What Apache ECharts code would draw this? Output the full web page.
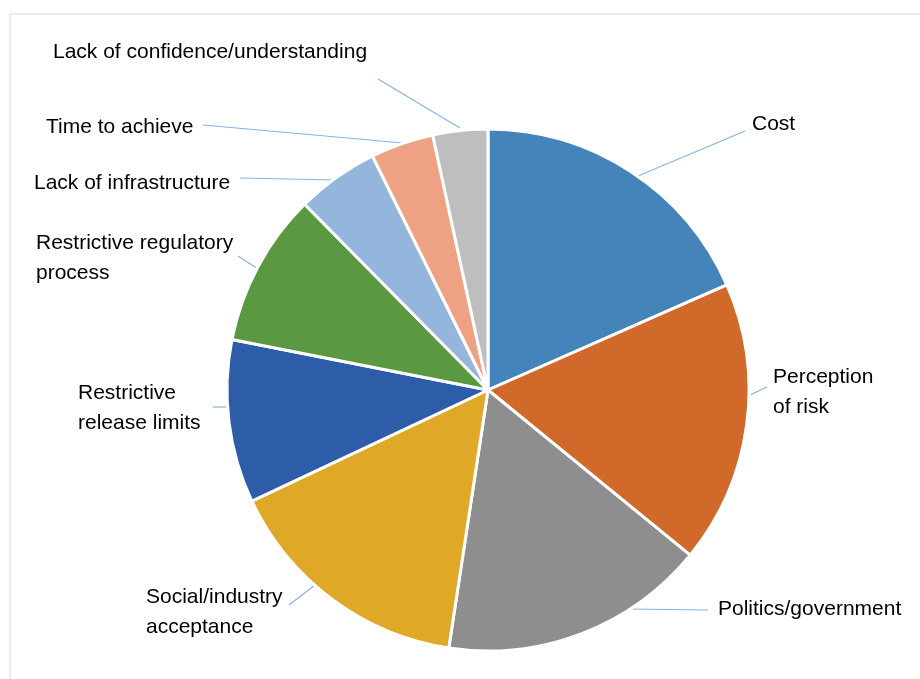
<!DOCTYPE html>
<html><head><meta charset="utf-8">
<script src="https://cdn.jsdelivr.net/npm/echarts@6/dist/echarts.min.js"></script>
<style>html,body{margin:0;padding:0;background:#fff}#c{width:920px;height:679px}</style>
</head><body><div id="c"></div>
<script>
var categories = ['Cost','Perception\nof risk','Politics/government','Social/industry\nacceptance','Restrictive\nrelease limits','Restrictive regulatory\nprocess','Lack of infrastructure','Time to achieve','Lack of confidence/understanding'];
var values = [18.4, 17.5, 16.5, 15.6, 10.1, 9.5, 5.1, 3.9, 3.4];
var colors = ['#4584BA','#D0692A','#8E8E8E','#E0A827','#2D5DA8','#5A9842','#94B6DC','#EFA283','#BEBEBE'];
// label placement: [left x, middle y, lineFromX, lineFromY, lineToX, lineToY]
var labelPos = [
  [752,124, 638,176, 745,131],
  [773,392, 748,396, 767,387],
  [718,609, 627,609, 708,610],
  [146,612, 315,585, 289,605],
  [78,408, 228,407, 213,407],
  [36,258, 258,269, 238,256],
  [34,183, 335,180, 240,178],
  [46,127, 403,143, 203,125],
  [53,52, 460,128, 378,79]
];
var chart = echarts.init(document.getElementById('c'));
var data = categories.map(function(n,i){return {name:n, value:values[i], itemStyle:{color:colors[i]}};});
chart.setOption({
  animation:false,
  graphic:[{type:'rect',shape:{x:10,y:14,width:930,height:700},style:{fill:'none',stroke:'#ececec',lineWidth:2},silent:true}],
  series:[{
    type:'pie',
    center:[488,390],
    radius:261,
    startAngle:90,
    clockwise:true,
    data:data,
    itemStyle:{borderColor:'#fff',borderWidth:3},
    label:{show:true,position:'outside',color:'#000',fontFamily:'"Liberation Sans Narrow","Liberation Sans",Arial,sans-serif',fontSize:21,lineHeight:30,formatter:'{b}'},
    labelLine:{show:true,lineStyle:{color:'#86B3E0',width:1.2}},
    labelLayout:function(p){
      var L = labelPos[p.dataIndex];
      return {x:L[0], y:L[1], align:'left', verticalAlign:'middle', labelLinePoints:[[L[2],L[3]],[L[4],L[5]],[L[4],L[5]]]};
    }
  }]
});
</script></body></html>
